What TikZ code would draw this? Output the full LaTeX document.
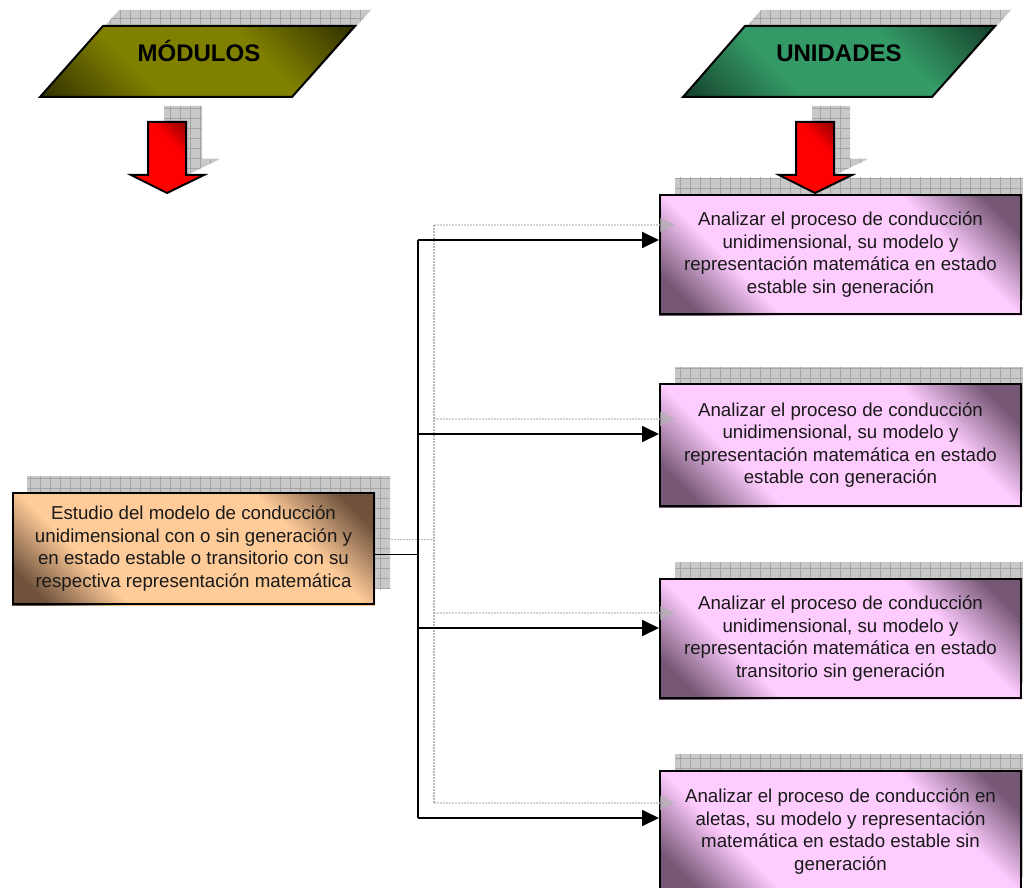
\documentclass[tikz,border=0pt]{standalone}
\usepackage{fontspec}
\setmainfont{Liberation Sans}
\usetikzlibrary{arrows.meta,patterns.meta,calc}
\definecolor{olv}{RGB}{128,128,0}
\definecolor{olvd}{RGB}{55,55,0}
\definecolor{grn}{RGB}{51,153,102}
\definecolor{grnd}{RGB}{22,70,46}
\definecolor{pnk}{RGB}{255,204,255}
\definecolor{pnkd}{RGB}{118,88,118}
\definecolor{pch}{RGB}{255,204,153}
\definecolor{pchd}{RGB}{112,82,60}
\definecolor{rdl}{RGB}{255,0,0}
\definecolor{rdd}{RGB}{135,0,0}
\definecolor{shd}{RGB}{200,200,200}
\definecolor{shl}{RGB}{165,165,165}
\pgfdeclarelayer{shadows}
\pgfdeclarelayer{fills}
\pgfsetlayers{shadows,fills,main}
% diagonal two-corner gradient made of thin strips
% #1 clip path, #2 Xc, #3 Yc, #4 light, #5 dark, #6 light until |d|, #7 dark from |d|
\newcommand{\stripfill}[7]{%
  \begin{scope}
    \clip #1;
    \foreach \d in {-300,-296,...,296} {
      \pgfmathsetmacro{\ad}{abs(\d+2)}
      \pgfmathsetmacro{\pct}{min(100,max(0,(\ad-#6)/(#7-#6)*100))}
      \fill[#5!\pct!#4] (#2+\d-300,#3-300) -- (#2+\d+300,#3+300) -- (#2+\d+304.6,#3+300) -- (#2+\d+4.6-300,#3-300) -- cycle;
    }
  \end{scope}}
% one-corner (top-right) gradient for the red arrows
\newcommand{\redfill}[3]{%
  \begin{scope}
    \clip #1;
    \foreach \d in {-80,-78,...,78} {
      \pgfmathsetmacro{\pct}{min(100,max(0,(\d+1-18)/(56-18)*100))}
      \fill[rdd!\pct!rdl] (#2+\d-100,#3-100) -- (#2+\d+100,#3+100) -- (#2+\d+102.6,#3+100) -- (#2+\d+2.6-100,#3-100) -- cycle;
    }
  \end{scope}}
\tikzset{
  shadowpat/.style={fill=shd, postaction={pattern={Hatch[angle=0,distance=10pt,line width=0.6pt]}, pattern color=shl}},
  boxnode/.style={draw=black, line width=2pt, minimum width=361pt, anchor=north west, align=center, inner sep=0pt,
     font=\fontsize{18.7}{22.6}\selectfont, text=black!90},
  titletext/.style={font=\fontsize{24}{28}\selectfont\bfseries, anchor=base, inner sep=0pt},
  wire/.style={line width=1.8pt, black},
  arr/.style={wire, -{Triangle[length=17pt,width=16pt]}},
  swire/.style={line width=1.3pt, black!28, dash pattern=on 2pt off 1pt},
  sarr/.style={swire, -{Triangle[length=15pt,width=14pt,color=black!30,fill=black!30,sep=0pt]}, opacity=0.6},
  outline/.style={draw=black, line width=2pt},
}
\begin{document}
\begin{tikzpicture}[x=1pt,y=-1pt]
\useasboundingbox (0,0) rectangle (1023,888);
\clip (0,0) rectangle (1023,888);

% ---- boxes (outline and text)
\node[boxnode, minimum height=111pt] (lbox) at (12,492)
  {Estudio del modelo de conducción\\unidimensional con o sin generación y\\en estado estable o transitorio con su\\respectiva representación matemática};
\node[boxnode, minimum height=119pt] (b1) at (659,194)
  {Analizar el proceso de conducción\\unidimensional, su modelo y\\representación matemática en estado\\estable sin generación};
\node[boxnode, minimum height=122pt] (b2) at (659,383)
  {Analizar el proceso de conducción\\unidimensional, su modelo y\\representación matemática en estado\\estable con generación};
\node[boxnode, minimum height=119pt] (b3) at (659,578)
  {Analizar el proceso de conducción\\unidimensional, su modelo y\\representación matemática en estado\\transitorio sin generación};
\node[boxnode, minimum height=121pt] (b4) at (659,770)
  {Analizar el proceso de conducción en\\aletas, su modelo y representación\\matemática en estado estable sin\\generación};

% ---- title parallelograms
\coordinate (m1) at (103,26); \coordinate (m2) at (355,26);
\coordinate (m3) at (292,97); \coordinate (m4) at (40,97);
\coordinate (u1) at (745,26); \coordinate (u2) at (995,26);
\coordinate (u3) at (932,97); \coordinate (u4) at (683,97);
\draw[outline] (m1) -- (m2) -- (m3) -- (m4) -- cycle;
\node[titletext] (mod) at (199,62) {MÓDULOS};
\draw[outline] (u1) -- (u2) -- (u3) -- (u4) -- cycle;
\node[titletext] (uni) at (839,62) {UNIDADES};

% ---- red block arrows
\newcommand{\redpath}[1]{(#1-19,122) -- (#1+19,122) -- (#1+19,175) -- (#1+37,175) -- (#1,193) -- (#1-36,175) -- (#1-19,175) -- cycle}
\draw[outline] \redpath{167};
\draw[outline] \redpath{815};

% ---- fills
\begin{pgfonlayer}{fills}
  \stripfill{(lbox.north west) rectangle (lbox.south east)}{191.5}{547.5}{pch}{pchd}{118}{200}
  \stripfill{(b1.north west) rectangle (b1.south east)}{839.5}{253.5}{pnk}{pnkd}{118}{200}
  \stripfill{(b2.north west) rectangle (b2.south east)}{839.5}{444}{pnk}{pnkd}{118}{200}
  \stripfill{(b3.north west) rectangle (b3.south east)}{839.5}{637.5}{pnk}{pnkd}{118}{200}
  \stripfill{(b4.north west) rectangle (b4.south east)}{839.5}{830.5}{pnk}{pnkd}{118}{200}
  \stripfill{(m1) -- (m2) -- (m3) -- (m4) -- cycle}{197.5}{61.5}{olv}{olvd}{70}{180}
  \stripfill{(u1) -- (u2) -- (u3) -- (u4) -- cycle}{839}{61.5}{grn}{grnd}{70}{180}
  \redfill{\redpath{167}}{167}{157}
  \redfill{\redpath{815}}{815}{157}
\end{pgfonlayer}

% ---- shadows
\begin{pgfonlayer}{shadows}
  \path[shadowpat] ([shift={(16,-16)}]m1) -- ([shift={(16,-16)}]m2) -- ([shift={(16,-16)}]m3) -- ([shift={(16,-16)}]m4) -- cycle;
  \path[shadowpat] ([shift={(16,-16)}]u1) -- ([shift={(16,-16)}]u2) -- ([shift={(16,-16)}]u3) -- ([shift={(16,-16)}]u4) -- cycle;
  \begin{scope}[shift={(16,-16)}]
    \path[shadowpat] \redpath{167};
    \path[shadowpat] \redpath{815};
  \end{scope}
  \path[shadowpat] ([shift={(15,-16)}]lbox.north west) rectangle ([shift={(15,-16)}]lbox.south east);
  \foreach \b in {b1,b2,b3,b4}
    \path[shadowpat] ([shift={(16,-16)}]\b.north west) rectangle ([shift={(16,-16)}]\b.south east);
\end{pgfonlayer}

% ---- connector coordinates
\coordinate (src) at ([shift={(0,6)}]lbox.east);
\coordinate (bus) at (418,0);
\coordinate (t1) at ([shift={(0,46)}]b1.north west);
\coordinate (t2) at ([shift={(0,51)}]b2.north west);
\coordinate (t3) at ([shift={(0,50)}]b3.north west);
\coordinate (t4) at ([shift={(0,48)}]b4.north west);
\foreach \c in {src,bus,t1,t2,t3,t4}
  \coordinate (s\c) at ([shift={(16,-15)}]\c);

% ---- connector shadows
\draw[swire] (ssrc) -- (ssrc -| sbus);
\draw[swire] (sbus |- st1) -- (sbus |- st4);
\foreach \i in {1,2,3,4}
  \draw[sarr] (sbus |- st\i) -- (st\i);

% ---- connectors
\draw[wire] (src) -- (src -| bus);
\draw[wire] (bus |- t1) -- (bus |- t4);
\foreach \i in {1,2,3,4}
  \draw[arr] (bus |- t\i) -- (t\i);
\end{tikzpicture}
\end{document}
